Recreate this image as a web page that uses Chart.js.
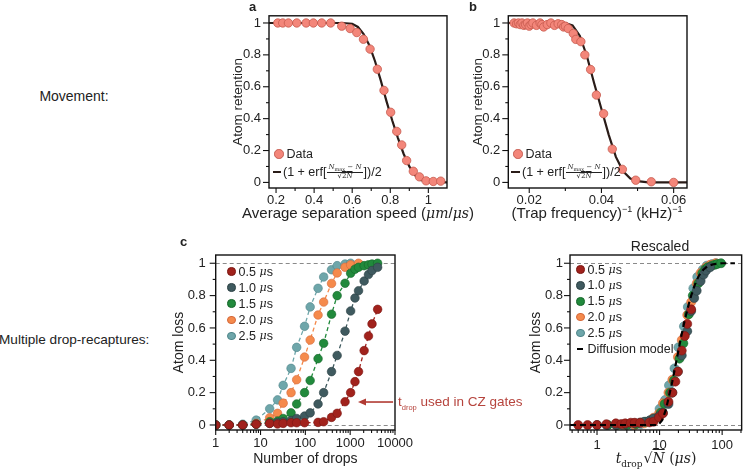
<!DOCTYPE html>
<html>
<head>
<meta charset="utf-8">
<script src="https://cdn.jsdelivr.net/npm/chart.js@4.4.1/dist/chart.umd.min.js"></script>
<style>
body { margin: 0; background: #fff; width: 749px; height: 469px; position: relative; overflow: hidden;
       font-family: "Liberation Sans", Arial, sans-serif; color: #222; }
canvas { position: absolute; }
.t { position: absolute; white-space: nowrap; line-height: 1; z-index: 2; }
.row { position: absolute; display: flex; align-items: center; height: 16px; white-space: nowrap; font-size: 12.5px; z-index: 2; }
.dot { display: inline-block; border-radius: 50%; box-sizing: border-box; margin-right: 3px; }
.fr { display: inline-block; vertical-align: middle; text-align: center; font-family: "DejaVu Serif", "Liberation Serif", serif;
      font-size: 7px; line-height: 1.05; margin: 0 1px; }
.fr .nu { display: block; border-bottom: 0.7px solid #222; padding: 0 1px; }
.fr .de { display: block; }
.ov { text-decoration: overline; }
.mi { font-family: "DejaVu Serif", "Liberation Serif", serif; font-style: italic; font-size: 11px; }
</style>
</head>
<body>
<canvas id="chartA" width="260" height="225" style="left:200px;top:0"></canvas>
<canvas id="chartB" width="250" height="225" style="left:460px;top:0"></canvas>
<canvas id="chartC" width="270" height="239" style="left:150px;top:230px"></canvas>
<canvas id="chartR" width="229" height="239" style="left:520px;top:230px"></canvas>

<div class="t" style="left:-1px;width:150px;text-align:center;top:89px;font-size:14px">Movement:</div>
<div class="t" style="left:-1px;width:150px;text-align:center;top:333px;font-size:13.6px">Multiple drop-recaptures:</div>

<div class="t" style="left:249px;top:0;font-size:13px;font-weight:bold">a</div>
<div class="t" style="left:469px;top:0;font-size:13px;font-weight:bold">b</div>
<div class="t" style="left:180px;top:235px;font-size:13px;font-weight:bold">c</div>
<div class="t" style="left:610px;width:100px;text-align:center;top:239px;font-size:14px">Rescaled</div>

<div class="t" style="left:208px;width:300px;text-align:center;top:205px;font-size:15px">Average separation speed (<span style="font-family:'DejaVu Serif','Liberation Serif',serif;font-style:italic;font-size:14px">μm</span>/<span style="font-family:'DejaVu Serif','Liberation Serif',serif;font-style:italic;font-size:14px">μs</span>)</div>
<div class="t" style="left:467px;width:260px;text-align:center;top:205px;font-size:15px">(Trap frequency)<sup style="font-size:9px">−1</sup> (kHz)<sup style="font-size:9px">−1</sup></div>

<!-- legend a -->
<div class="row" style="left:274px;top:146px"><span class="dot" style="width:9.5px;height:9.5px;background:#f3867a;border:0.8px solid #c65a4e"></span>Data</div>
<div class="row" style="left:273px;top:162px;height:20px"><span style="display:inline-block;width:8px;height:2.4px;background:#2a1c18;margin-right:2px"></span>(1 + erf[<span class="fr"><span class="nu"><i>N</i><sub style="font-size:5px">max</sub> − <i>N</i></span><span class="de">√<span class="ov">2<i>N</i></span></span></span>])/2</div>
<!-- legend b -->
<div class="row" style="left:513px;top:146px"><span class="dot" style="width:9.5px;height:9.5px;background:#f3867a;border:0.8px solid #c65a4e"></span>Data</div>
<div class="row" style="left:511px;top:162px;height:20px"><span style="display:inline-block;width:9px;height:2.4px;background:#2a1c18;margin-right:2px"></span>(1 + erf[<span class="fr"><span class="nu"><i>N</i><sub style="font-size:5px">max</sub> − <i>N</i></span><span class="de">√<span class="ov">2<i>N</i></span></span></span>])/2</div>

<div id="legendC"></div>
<div id="legendR"></div>

<div class="t" style="left:398px;top:395px;font-size:13.5px;color:#b6443d">t<sub style="font-size:7.5px">drop</sub> used in CZ gates</div>

<div class="t" style="left:586px;width:140px;text-align:center;top:451px;font-family:'DejaVu Serif','Liberation Serif',serif;font-size:14px"><i>t</i><sub style="font-size:9px">drop</sub><span style="margin-left:1px">√<span class="ov"><i>N</i></span></span> (<i>μs</i>)</div>

<script>
// panel a: retention vs separation speed
const speedA = [0.209, 0.235, 0.265, 0.309, 0.358, 0.396, 0.44, 0.487, 0.545, 0.589, 0.624, 0.659,
                0.694, 0.732, 0.767, 0.802, 0.834, 0.86, 0.886, 0.921, 0.953, 0.988, 1.026, 1.065];
const retentionA = [1, 1, 1, 1, 1, 1, 1, 1, 0.98, 0.965, 0.94, 0.898,
                    0.836, 0.71, 0.577, 0.44, 0.32, 0.235, 0.137, 0.07, 0.035, 0.01, 0.006, 0.008];
const fitSpeedA = [0.15, 0.55, 0.6, 0.63, 0.66, 0.69, 0.72, 0.75, 0.78, 0.81, 0.84, 0.87, 0.9, 0.93, 0.96, 1.0, 1.1];
const fitRetentionA = [1, 1, 0.995, 0.975, 0.93, 0.86, 0.76, 0.64, 0.51, 0.39, 0.28, 0.18, 0.1, 0.045, 0.015, 0.003, 0];

// panel b: retention vs inverse trap frequency
const trapB = [0.0158, 0.0165, 0.017, 0.0175, 0.018, 0.0185, 0.019, 0.0195, 0.02, 0.0205, 0.021, 0.022,
               0.023, 0.0235, 0.024, 0.025, 0.026, 0.027, 0.028, 0.029, 0.0295, 0.03, 0.0308, 0.0322,
               0.0329, 0.0343, 0.0354, 0.037, 0.0386, 0.0406, 0.043, 0.0458, 0.0495, 0.0538, 0.06];
const retentionB = [1, 0.995, 1, 0.99, 1, 0.985, 0.99, 1, 0.98, 0.99, 1, 0.985,
                    1, 0.99, 0.975, 0.99, 1, 0.985, 0.995, 0.99, 0.975, 0.98, 0.965, 0.934,
                    0.897, 0.883, 0.8, 0.708, 0.548, 0.431, 0.209, 0.082, 0.014, 0.004, 0];
const fitTrapB = [0.014, 0.03, 0.032, 0.034, 0.036, 0.038, 0.04, 0.042, 0.044, 0.046, 0.048, 0.05, 0.053, 0.065];
const fitRetentionB = [1, 1, 0.985, 0.92, 0.79, 0.62, 0.46, 0.3, 0.16, 0.07, 0.025, 0.008, 0, 0];

// panel c: atom loss vs number of drops, one series per drop time
const tDrop = [0.5, 1.0, 1.5, 2.0, 2.5];
const tDropLabels = ['0.5', '1.0', '1.5', '2.0', '2.5'];
const drops05 = [1, 2, 4, 8, 16, 24, 32, 48, 64, 96, 192, 256, 384, 512, 768, 1024, 1280, 1536, 2048, 2560, 3072, 4096];
const loss05 = [0, 0, 0, 0.005, 0.01, 0.006, 0.01, 0.014, 0.014, 0.014, 0.016, 0.02, 0.047, 0.072, 0.144, 0.2, 0.268, 0.33, 0.46, 0.55, 0.625, 0.715];
const drops10 = [1, 2, 4, 8, 16, 24, 32, 48, 64, 96, 128, 192, 256, 384, 512, 768, 1024, 1280, 1536, 2048, 2560, 3072, 4096];
const loss10 = [0, 0, 0, 0.005, 0.01, 0.015, 0.02, 0.028, 0.04, 0.055, 0.075, 0.13, 0.2, 0.33, 0.43, 0.58, 0.705, 0.785, 0.83, 0.89, 0.93, 0.955, 0.975];
const drops15 = [1, 2, 4, 8, 16, 24, 32, 48, 64, 96, 128, 192, 256, 384, 512, 768, 1024, 1280, 1536, 2048, 2560, 3072, 4096];
const loss15 = [0, 0, 0, 0.005, 0.02, 0.025, 0.04, 0.075, 0.13, 0.2, 0.275, 0.41, 0.505, 0.685, 0.8, 0.876, 0.938, 0.963, 0.975, 0.985, 0.99, 0.995, 1.0];
const drops20 = [1, 2, 4, 8, 16, 24, 32, 48, 64, 96, 128, 192, 256, 384, 512, 768, 1024, 1536];
const loss20 = [0, 0, 0, 0.01, 0.045, 0.072, 0.135, 0.2, 0.28, 0.42, 0.525, 0.68, 0.76, 0.875, 0.94, 0.975, 0.99, 1.0];
const drops25 = [1, 2, 4, 8, 16, 24, 32, 48, 64, 96, 128, 192, 256, 384, 512, 768, 1024];
const loss25 = [0, 0, 0.005, 0.03, 0.1, 0.155, 0.245, 0.35, 0.48, 0.61, 0.73, 0.845, 0.915, 0.96, 0.985, 0.995, 1.0];

// diffusion model in rescaled panel
const modelX = [0.37, 5, 9.5, 11, 12.5, 14, 16, 18, 20, 22.5, 25, 28, 32, 36, 42, 50, 60, 75, 100, 160];
const modelY = [0, 0, 0, 0.03, 0.09, 0.17, 0.27, 0.37, 0.46, 0.56, 0.64, 0.72, 0.8, 0.86, 0.92, 0.96, 0.985, 0.995, 1, 1];

// tick labels
const fracTicks = [0, 0.2, 0.4, 0.6, 0.8, 1];
const fracMinor = [0.1, 0.3, 0.5, 0.7, 0.9];
const speedTicks = [0.2, 0.4, 0.6, 0.8, 1];
const speedMinor = [0.3, 0.5, 0.7, 0.9];
const trapTicks = [0.02, 0.04, 0.06];
const trapMinor = [0.03, 0.05];
const dropTicks = [1, 10, 100, 1000, 10000];
const dropMinor = [2, 3, 4, 5, 6, 7, 8, 9, 20, 30, 40, 50, 60, 70, 80, 90, 200, 300, 400, 500, 600, 700, 800, 900,
                   2000, 3000, 4000, 5000, 6000, 7000, 8000, 9000];
const rescaledTicks = [1, 10, 100];
const rescaledMinor = [0.4, 0.5, 0.6, 0.7, 0.8, 0.9, 2, 3, 4, 5, 6, 7, 8, 9, 20, 30, 40, 50, 60, 70, 80, 90, 200];

const FONT = '"Liberation Sans", Arial, sans-serif';
const salmon = '#f3867a', salmonEdge = '#c65a4e', fitColor = '#2a1c18';
const seriesColors = ['#a1221c', '#3f5a5f', '#218a3c', '#f58a4c', '#6ea6aa'];
const seriesEdges = ['#7a1612', '#2c4043', '#16652a', '#d4683a', '#4f8589'];
const dropsAll = [drops05, drops10, drops15, drops20, drops25];
const lossAll = [loss05, loss10, loss15, loss20, loss25];

const pts = (xs, ys) => xs.map((x, i) => ({ x: x, y: ys[i] }));

function makeAxis(o) {
    return {
        type: o.type || 'linear',
        position: o.pos,
        min: o.min,
        max: o.max,
        bounds: 'data',
        grid: { display: false, drawTicks: false },
        border: { display: false },
        ticks: {
            autoSkip: false,
            maxRotation: 0,
            padding: o.labelPad,
            color: '#222',
            font: { family: FONT, size: 13 },
            callback: (v, i, ticks) => ticks[i].major ? String(ticks[i].value) : ''
        },
        title: o.title ? {
            display: true, text: o.title, color: '#222',
            font: { family: FONT, size: o.titleSize || 14 }, padding: o.titlePad
        } : { display: false },
        afterBuildTicks: s => {
            s.ticks = o.major.map(v => ({ value: v, major: true }))
                .concat((o.minor || []).map(v => ({ value: v, major: false })))
                .sort((a, b) => a.value - b.value);
        },
        afterFit: s => {
            if (o.pos === 'left') s.width = o.size;
            else s.height = o.size;
        }
    };
}

// frame, outward tick marks, dashed guides at 0 and 1, arrow
const framePlugin = {
    id: 'frame',
    beforeDatasetsDraw(chart, args, opts) {
        const { ctx, chartArea: a } = chart;
        if (opts.guides) {
            const y = chart.scales.y;
            ctx.save();
            ctx.strokeStyle = '#8a8a8a';
            ctx.lineWidth = 1;
            ctx.setLineDash([4, 3]);
            [0, 1].forEach(v => {
                const py = Math.round(y.getPixelForValue(v)) + 0.5;
                ctx.beginPath();
                ctx.moveTo(a.left, py);
                ctx.lineTo(a.right, py);
                ctx.stroke();
            });
            ctx.restore();
        }
    },
    afterDraw(chart, args, opts) {
        const { ctx, chartArea: a } = chart;
        ctx.save();
        ctx.strokeStyle = '#111';
        ctx.lineWidth = 1.4;
        ctx.strokeRect(a.left, a.top, a.right - a.left, a.bottom - a.top);
        ctx.lineWidth = 1.1;
        const xs = chart.scales.x, ys = chart.scales.y;
        xs.ticks.forEach(t => {
            const px = xs.getPixelForValue(t.value);
            const len = t.major ? 5 : 3;
            ctx.beginPath();
            ctx.moveTo(px, a.bottom);
            ctx.lineTo(px, a.bottom + len);
            ctx.stroke();
        });
        ys.ticks.forEach(t => {
            const py = ys.getPixelForValue(t.value);
            const len = t.major ? 6 : 3;
            ctx.beginPath();
            ctx.moveTo(a.left, py);
            ctx.lineTo(a.left - len, py);
            ctx.stroke();
        });
        if (opts.arrow) {
            const ar = opts.arrow;
            const x0 = xs.getPixelForValue(ar.from), x1 = xs.getPixelForValue(ar.to);
            const py = ys.getPixelForValue(ar.y);
            ctx.strokeStyle = ar.color;
            ctx.fillStyle = ar.color;
            ctx.lineWidth = 1.6;
            ctx.beginPath();
            ctx.moveTo(x0, py);
            ctx.lineTo(x1 + 6, py);
            ctx.stroke();
            ctx.beginPath();
            ctx.moveTo(x1, py);
            ctx.lineTo(x1 + 8, py - 3.5);
            ctx.lineTo(x1 + 8, py + 3.5);
            ctx.closePath();
            ctx.fill();
        }
        ctx.restore();
    }
};

function baseOptions(area, w, h, scales, frameOpts) {
    return {
        responsive: false,
        animation: false,
        devicePixelRatio: 1,
        layout: { padding: { left: 0, top: area.top, right: w - area.right, bottom: 0 } },
        plugins: { legend: { display: false }, tooltip: { enabled: false }, frame: frameOpts || {} },
        scales: scales
    };
}

// panel a
new Chart(document.getElementById('chartA'), {
    type: 'scatter',
    data: {
        datasets: [
            { data: pts(fitSpeedA, fitRetentionA), showLine: true, borderColor: fitColor, borderWidth: 2.2,
              pointRadius: 0, order: 2 },
            { data: pts(speedA, retentionA), pointRadius: 4.2, pointBackgroundColor: salmon,
              pointBorderColor: salmonEdge, pointBorderWidth: 0.8, order: 1 }
        ]
    },
    options: baseOptions({ top: 12, right: 247 }, 260, 225, {
        x: makeAxis({ pos: 'bottom', min: 0.163, max: 1.098, major: speedTicks, minor: speedMinor, size: 37, labelPad: 4.5 }),
        y: makeAxis({ pos: 'left', min: -0.035, max: 1.045, major: fracTicks, minor: fracMinor, size: 69, labelPad: 8,
                      title: 'Atom retention', titleSize: 13.5, titlePad: { top: 29.8, bottom: 0 } })
    }),
    plugins: [framePlugin]
});

// panel b
new Chart(document.getElementById('chartB'), {
    type: 'scatter',
    data: {
        datasets: [
            { data: pts(fitTrapB, fitRetentionB), showLine: true, borderColor: fitColor, borderWidth: 2.2,
              pointRadius: 0, order: 2 },
            { data: pts(trapB, retentionB), pointRadius: 4.2, pointBackgroundColor: salmon,
              pointBorderColor: salmonEdge, pointBorderWidth: 0.8, order: 1 }
        ]
    },
    options: baseOptions({ top: 12, right: 227 }, 250, 225, {
        x: makeAxis({ pos: 'bottom', min: 0.0142, max: 0.0637, major: trapTicks, minor: trapMinor, size: 37, labelPad: 4.5 }),
        y: makeAxis({ pos: 'left', min: -0.035, max: 1.045, major: fracTicks, minor: fracMinor, size: 48.3, labelPad: 8,
                      title: 'Atom retention', titleSize: 13.5, titlePad: { top: 10.1, bottom: 0 } })
    }),
    plugins: [framePlugin]
});

function dropSeries(i, xsFor) {
    return {
        data: pts(xsFor(i), lossAll[i]),
        showLine: true,
        borderColor: seriesColors[i],
        borderWidth: 1.3,
        borderDash: [4, 3],
        pointRadius: 4.3,
        pointBackgroundColor: seriesColors[i],
        pointBorderColor: seriesEdges[i],
        pointBorderWidth: 0.6,
        order: i + 1
    };
}

// panel c
new Chart(document.getElementById('chartC'), {
    type: 'scatter',
    data: { datasets: tDrop.map((t, i) => dropSeries(i, k => dropsAll[k])) },
    options: baseOptions({ top: 25, right: 245 }, 270, 239, {
        x: makeAxis({ type: 'logarithmic', pos: 'bottom', min: 1, max: 10000, major: dropTicks, minor: dropMinor,
                      size: 39, labelPad: 5.5, title: 'Number of drops', titlePad: { top: 0, bottom: 1.6 } }),
        y: makeAxis({ pos: 'left', min: -0.031, max: 1.051, major: fracTicks, minor: fracMinor, size: 65.7, labelPad: 10,
                      title: 'Atom loss', titlePad: { top: 21, bottom: 0 } })
    }, { guides: true, arrow: { from: 9060, to: 1496, y: 0.142, color: '#b13a33' } }),
    plugins: [framePlugin]
});

// rescaled panel: x = t_drop * sqrt(N)
const rescaledSets = tDrop.map((t, i) => {
    const ds = dropSeries(i, k => dropsAll[k].map(n => tDrop[k] * Math.sqrt(n)));
    ds.showLine = false;
    ds.pointRadius = 4.5;
    return ds;
});
rescaledSets.push({ data: pts(modelX, modelY), showLine: true, borderColor: '#000', borderWidth: 2.2,
                    borderDash: [6, 4], pointRadius: 0, order: 0 });

new Chart(document.getElementById('chartR'), {
    type: 'scatter',
    data: { datasets: rescaledSets },
    options: baseOptions({ top: 25, right: 225.7 }, 229, 239, {
        x: makeAxis({ type: 'logarithmic', pos: 'bottom', min: 0.37, max: 205, major: rescaledTicks, minor: rescaledMinor,
                      size: 39, labelPad: 8 }),
        y: makeAxis({ pos: 'left', min: -0.031, max: 1.051, major: fracTicks, minor: fracMinor, size: 50, labelPad: 7,
                      title: 'Atom loss', titlePad: { top: 7.6, bottom: 0 } })
    }, { guides: true }),
    plugins: [framePlugin]
});

// legends for c and rescaled
function buildLegend(id, x, y0, step, withModel) {
    const box = document.getElementById(id);
    tDropLabels.forEach((lab, i) => {
        const row = document.createElement('div');
        row.className = 'row';
        row.style.left = x + 'px';
        row.style.top = (y0 + i * step - 8) + 'px';
        row.innerHTML = '<span class="dot" style="width:8.6px;height:8.6px;background:' + seriesColors[i] +
            ';border:0.6px solid ' + seriesEdges[i] + '"></span>' + lab + ' <span class="mi">&nbsp;\u03bc</span>s';
        box.appendChild(row);
    });
    if (withModel) {
        const row = document.createElement('div');
        row.className = 'row';
        row.style.left = (x + 0.5) + 'px';
        row.style.top = (y0 + 5 * step - 8) + 'px';
        row.innerHTML = '<span style="display:inline-block;width:6px;height:2.4px;background:#000;margin-right:5px"></span>Diffusion model';
        box.appendChild(row);
    }
}
buildLegend('legendC', 227, 271.5, 16.1, false);
buildLegend('legendR', 576, 269.5, 15.9, true);
</script>
</body>
</html>
